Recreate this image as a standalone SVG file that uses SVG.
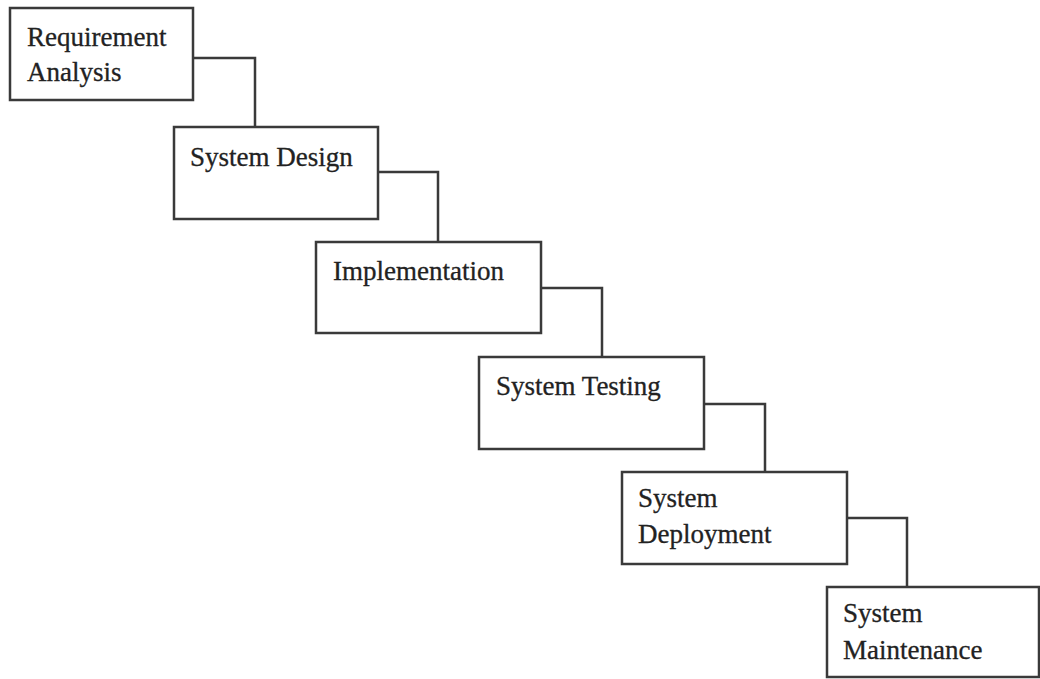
<svg xmlns="http://www.w3.org/2000/svg" width="1040" height="679" viewBox="0 0 1040 679">
<style>
.box{fill:#fff;stroke:#3a3a3a;stroke-width:2.5}
.con{fill:none;stroke:#3a3a3a;stroke-width:2.5}
text{font-family:"Liberation Serif","Times New Roman",serif;font-size:27px;fill:#222;stroke:#222;stroke-width:0.3}
</style>
<rect width="1040" height="679" fill="#fff"/>
<g id="connectors">
<polyline class="con" points="193,58 255,58 255,127"/>
<polyline class="con" points="378,172 438,172 438,242"/>
<polyline class="con" points="541,288 602,288 602,357"/>
<polyline class="con" points="704,404 765,404 765,472"/>
<polyline class="con" points="847,518 907,518 907,587"/>
</g>
<g id="n1"><rect class="box" x="10" y="8" width="183" height="92"/><text x="27" y="46">Requirement</text><text x="27" y="81">Analysis</text></g>
<g id="n2"><rect class="box" x="174" y="127" width="204" height="92"/><text x="190" y="166">System Design</text></g>
<g id="n3"><rect class="box" x="316" y="242" width="225" height="91"/><text x="333" y="280">Implementation</text></g>
<g id="n4"><rect class="box" x="479" y="357" width="225" height="92"/><text x="496" y="395">System Testing</text></g>
<g id="n5"><rect class="box" x="622" y="472" width="225" height="92"/><text x="638" y="507">System</text><text x="638" y="543">Deployment</text></g>
<g id="n6"><rect class="box" x="827" y="587" width="212" height="90"/><text x="843" y="622">System</text><text x="843" y="659">Maintenance</text></g>
</svg>
